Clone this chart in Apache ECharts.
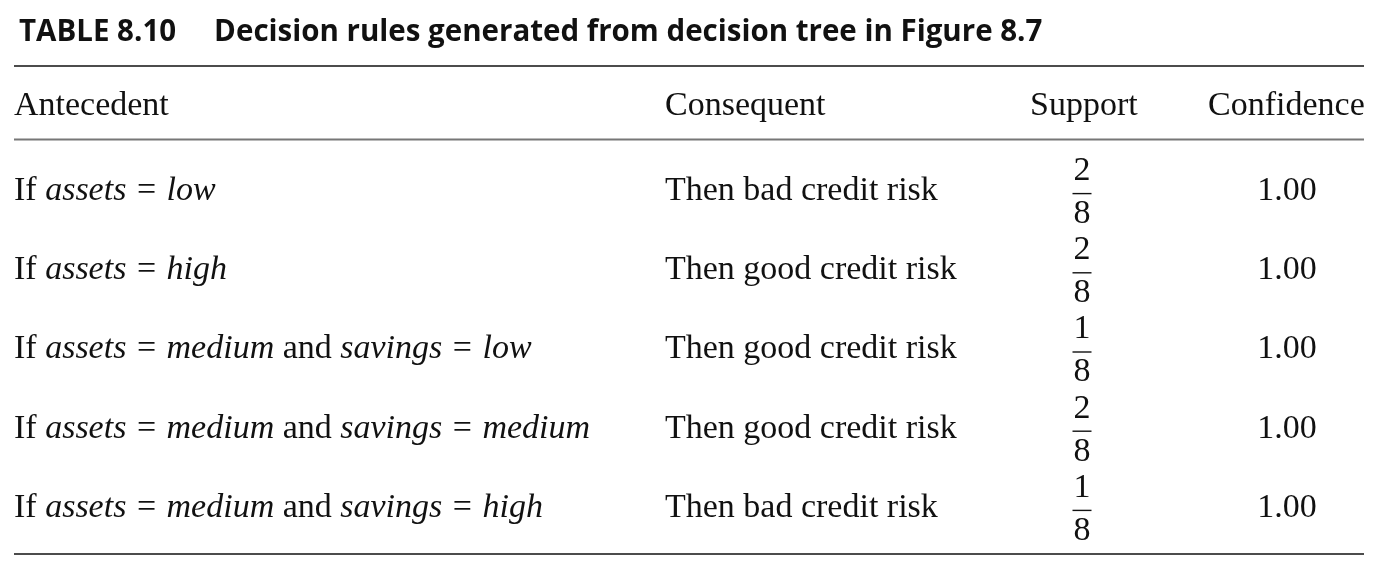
<!DOCTYPE html>
<html>
<head>
<meta charset="utf-8">
<script src="https://cdn.jsdelivr.net/npm/echarts@6/dist/echarts.min.js"></script>
<style>
  html, body { margin: 0; padding: 0; background: #fff; }
  #chart { width: 1386px; height: 570px; }
</style>
</head>
<body>
<div id="chart"></div>
<script>
// table content
const tableNo = 'TABLE 8.10';
const caption = 'Decision rules generated from decision tree in Figure 8.7';
const headers = ['Antecedent', 'Consequent', 'Support', 'Confidence'];

// each antecedent is a list of [attribute, value] conditions
const antecedents = [
    [['assets', 'low']],
    [['assets', 'high']],
    [['assets', 'medium'], ['savings', 'low']],
    [['assets', 'medium'], ['savings', 'medium']],
    [['assets', 'medium'], ['savings', 'high']]
];
const consequents = [
    'Then bad credit risk',
    'Then good credit risk',
    'Then good credit risk',
    'Then good credit risk',
    'Then bad credit risk'
];
const supportNum = [2, 2, 1, 2, 1];
const supportDen = [8, 8, 8, 8, 8];
const confidence = [1.00, 1.00, 1.00, 1.00, 1.00];

const rowIds = antecedents.map((_, i) => String(i));

// column anchors (pixels)
const COL_ANT = 14, COL_CON = 665, COL_SUP = 1082, COL_CONF = 1287;
const SERIF = '"Liberation Serif", "DejaVu Serif", serif';
const FS = 34;
const INK = '#111';

function antecedentText(conds) {
    return 'If ' + conds.map(c => '{i|' + c[0] + '} {eq|=} {i|' + c[1] + '}').join(' and ');
}

const chart = echarts.init(document.getElementById('chart'));

function renderRow(params, api) {
    const i = api.value(1);
    const y = api.coord([0, i])[1];
    const txt = (x, text, align, dy, rich) => ({
        type: 'text',
        x: x, y: y + (dy || 0),
        style: {
            text: text,
            fontFamily: SERIF, fontSize: FS, fill: INK,
            align: align, verticalAlign: 'middle',
            rich: rich
        }
    });
    return {
        type: 'group',
        children: [
            txt(COL_ANT, antecedentText(antecedents[i]), 'left', 0, {
                i: { fontStyle: 'italic', fontFamily: SERIF, fontSize: FS, fill: INK },
                eq: { fontFamily: SERIF, fontSize: FS, fill: INK, padding: [0, 2] }
            }),
            txt(COL_CON, consequents[i], 'left', 0),
            txt(COL_SUP, String(supportNum[i]), 'center', -20),
            {
                type: 'line',
                shape: { x1: COL_SUP - 9.5, y1: y + 2.5, x2: COL_SUP + 9.5, y2: y + 2.5 },
                style: { stroke: INK, lineWidth: 1.4 }
            },
            txt(COL_SUP, String(supportDen[i]), 'center', 23),
            txt(COL_CONF, confidence[i].toFixed(2), 'center', 0)
        ]
    };
}

const headerX = [14, 665, 1030, 1208];

chart.setOption({
    animation: false,
    title: {
        left: 14,
        top: 13,
        text: '{a|' + tableNo + '}{g|}{a|' + caption + '}',
        textStyle: {
            rich: {
                a: { fontFamily: 'Open Sans', fontWeight: 'bold', fontSize: 29.5, color: INK },
                g: { width: 38 }
            }
        }
    },
    grid: { left: 0, right: 0, top: 151.5, bottom: 22.5 },
    xAxis: { type: 'value', min: 0, max: 1386, show: false },
    yAxis: { type: 'category', data: rowIds, inverse: true, show: false },
    graphic: [
        { type: 'line', shape: { x1: 14, y1: 66, x2: 1364, y2: 66 }, style: { stroke: INK, lineWidth: 1.5 } },
        { type: 'line', shape: { x1: 14, y1: 139.5, x2: 1364, y2: 139.5 }, style: { stroke: '#777', lineWidth: 2 } },
        { type: 'line', shape: { x1: 14, y1: 554, x2: 1364, y2: 554 }, style: { stroke: INK, lineWidth: 1.5 } }
    ].concat(headers.map((h, k) => ({
        type: 'text',
        x: headerX[k], y: 106.5,
        style: { text: h, fontFamily: SERIF, fontSize: FS, fill: INK, verticalAlign: 'middle' }
    }))),
    series: [{
        type: 'custom',
        renderItem: renderRow,
        encode: { x: 0, y: 1 },
        data: rowIds.map((_, i) => [0, i])
    }]
});
</script>
</body>
</html>
